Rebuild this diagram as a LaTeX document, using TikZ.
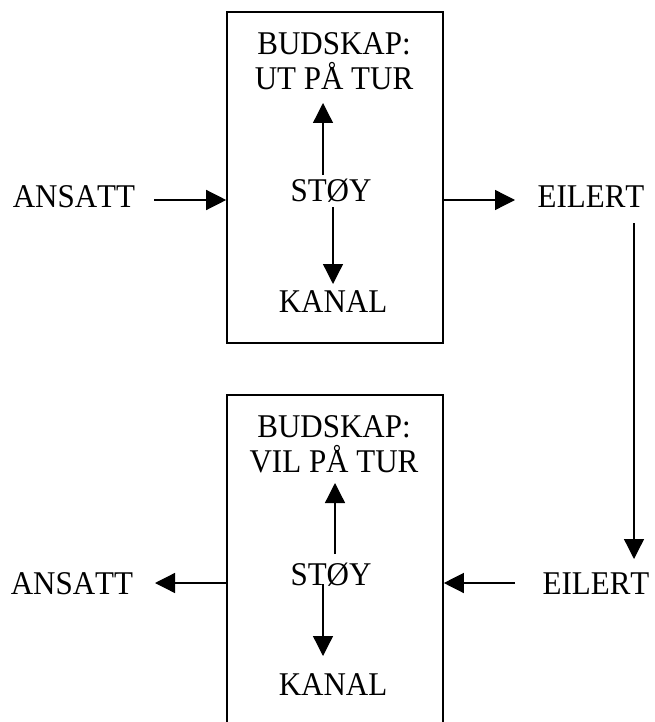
\documentclass[tikz,border=0pt]{standalone}
\usepackage{fontspec}
\setmainfont[Kerning=Off]{Liberation Serif}
\usetikzlibrary{arrows.meta}
\newcommand{\tall}[1]{\scalebox{1}[1.07]{#1}}
\begin{document}
\begin{tikzpicture}[x=1pt,y=-1pt,
  lbl/.style={anchor=base,inner sep=0pt,font=\fontsize{31}{36}\selectfont},
  boxframe/.style={draw,line width=1.6pt,inner sep=0pt},
  arr/.style={line width=1.3pt,-{Triangle[width=20pt,length=20pt]}}]
\clip (0,0) rectangle (654,722);
\fill[white] (0,0) rectangle (654,722);
% boxes
\node[boxframe,minimum width=216pt,minimum height=331pt] (box1) at (335,177.5) {};
\node[boxframe,minimum width=216pt,minimum height=360pt] (box2) at (335,575) {};
% top texts
\node[lbl] (bud1) at (334,55) {\tall{BUDSKAP:}};
\node[lbl] (ut1) at (334,90) {\tall{UT PÅ TUR}};
\node[lbl] (stoy1) at (331,201) {\tall{STØY}};
\node[lbl] (kanal1) at (333,312) {\tall{KANAL}};
\node[lbl] (ansatt1) at (74,207) {\tall{ANSATT}};
\node[lbl] (eilert1) at (591,207) {\tall{EILERT}};
% bottom texts
\node[lbl] (bud2) at (334,437) {\tall{BUDSKAP:}};
\node[lbl] (vil2) at (334,472) {\tall{VIL PÅ TUR}};
\node[lbl] (stoy2) at (331,585) {\tall{STØY}};
\node[lbl] (kanal2) at (333,695) {\tall{KANAL}};
\node[lbl] (ansatt2) at (72,594) {\tall{ANSATT}};
\node[lbl] (eilert2) at (596,594) {\tall{EILERT}};
% connector end points
\coordinate (a1s) at (154,200);
\coordinate (a1e) at (box1.west |- a1s);
\coordinate (e1s) at (box1.east |- a1s);
\coordinate (e1e) at (515,200);
\coordinate (vs) at (634,223);
\coordinate (ve) at (634,559);
\coordinate (e2s) at (515,583);
\coordinate (e2e) at (box2.east |- e2s);
\coordinate (a2s) at (box2.west |- e2s);
\coordinate (a2e) at (155,583);
\coordinate (u1s) at (323,175);
\coordinate (u1e) at (323,103);
\coordinate (d1s) at (333,207);
\coordinate (d1e) at (333,284);
\coordinate (u2s) at (335,554);
\coordinate (u2e) at (335,483);
\coordinate (d2s) at (323,584);
\coordinate (d2e) at (323,656);
% arrows
\draw[arr] (a1s) -- (a1e);
\draw[arr] (e1s) -- (e1e);
\draw[arr] (vs) -- (ve);
\draw[arr] (e2s) -- (e2e);
\draw[arr] (a2s) -- (a2e);
\draw[arr] (u1s) -- (u1e);
\draw[arr] (d1s) -- (d1e);
\draw[arr] (u2s) -- (u2e);
\draw[arr] (d2s) -- (d2e);
\end{tikzpicture}
\end{document}
